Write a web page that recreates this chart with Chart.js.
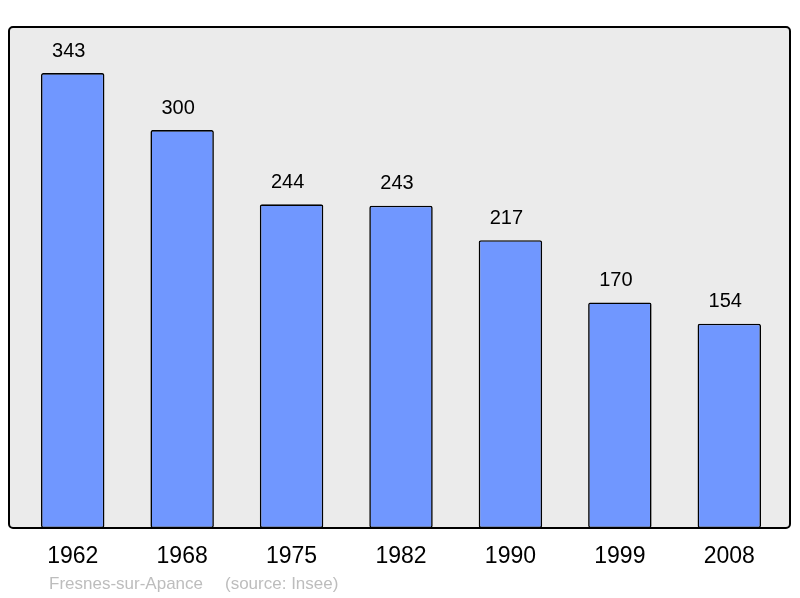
<!DOCTYPE html>
<html>
<head>
<meta charset="utf-8">
<script src="https://cdn.jsdelivr.net/npm/chart.js@4"></script>
<style>
  html, body { margin: 0; padding: 0; background: #fff; }
  #wrap { position: relative; width: 800px; height: 598px; }
</style>
</head>
<body>
<div id="wrap"><canvas id="pop"></canvas></div>
<script>
// population data
const years = ['1962', '1968', '1975', '1982', '1990', '1999', '2008'];
const population = [343, 300, 244, 243, 217, 170, 154];
const commune = 'Fresnes-sur-Apance';
const source = '(source: Insee)';

// grey frame behind the bars + labels
const framePlugin = {
  id: 'frame',
  beforeDatasetsDraw(chart) {
    const ctx = chart.ctx;
    ctx.save();
    ctx.beginPath();
    ctx.roundRect(9, 27, 781, 501, 4);
    ctx.fillStyle = '#ebebeb';
    ctx.fill();
    ctx.restore();
  },
  afterDatasetsDraw(chart) {
    const ctx = chart.ctx;
    const meta = chart.getDatasetMeta(0);
    const x = chart.scales.x;
    ctx.save();
    ctx.beginPath();
    ctx.roundRect(9, 27, 781, 501, 4);
    ctx.lineWidth = 2;
    ctx.strokeStyle = '#000';
    ctx.stroke();

    ctx.fillStyle = '#000';
    ctx.textAlign = 'center';
    ctx.textBaseline = 'middle';
    ctx.font = '20px "Liberation Sans", Arial, sans-serif';
    meta.data.forEach((bar, i) => {
      ctx.fillText(String(population[i]), bar.x - 4, bar.y - 22);
    });

    ctx.font = '23px "Liberation Sans", Arial, sans-serif';
    years.forEach((y, i) => {
      ctx.fillText(y, x.getPixelForValue(i), 557);
    });

    ctx.fillStyle = '#bdbdbd';
    ctx.textAlign = 'left';
    ctx.font = '17px "Liberation Sans", Arial, sans-serif';
    ctx.fillText(commune, 49, 584);
    ctx.fillText(source, 225, 584);
    ctx.restore();
  }
};

new Chart(document.getElementById('pop'), {
  type: 'bar',
  data: {
    labels: years,
    datasets: [{
      data: population,
      backgroundColor: '#7097ff',
      borderColor: '#000',
      borderWidth: 1.6,
      borderRadius: 2,
      borderSkipped: false,
      barPercentage: 0.58,
      categoryPercentage: 1
    }]
  },
  options: {
    responsive: true,
    maintainAspectRatio: false,
    animation: false,
    layout: { padding: { left: 18, right: 16, top: 27, bottom: 70 } },
    plugins: { legend: { display: false }, tooltip: { enabled: false } },
    scales: {
      x: { display: false },
      y: { display: false, min: 0, max: 377.7 }
    }
  },
  plugins: [framePlugin]
});
</script>
</body>
</html>
